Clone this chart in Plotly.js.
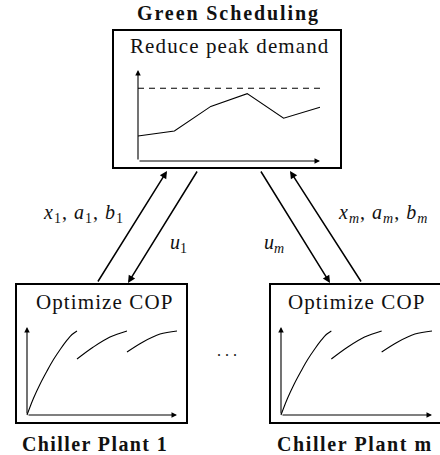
<!DOCTYPE html>
<html>
<head>
<meta charset="utf-8">
<script src="https://cdn.plot.ly/plotly-3.0.1.min.js"></script>
<style>html,body{margin:0;padding:0;background:#fff;}#chart{width:440px;height:455px;}</style>
</head>
<body>
<div id="chart"></div>
<script>
// ---- data ----
const demandX = [0, 1, 2, 3, 4, 5];
const demandY = [2.75, 3.3, 6.0, 7.4, 4.7, 5.9];
const peakLimit = 8.0;
const copX1 = [0, 0.13, 0.26, 0.4, 0.53, 0.67, 0.8, 0.9, 1.0];
const copY1 = [0, 0.19, 0.35, 0.5, 0.63, 0.75, 0.85, 0.915, 0.955];
const copX2 = [1.0, 1.32, 1.66, 2.0];
const copY2 = [0.636, 0.77, 0.886, 0.955];
const copX3 = [2.0, 2.32, 2.66, 3.0];
const copY3 = [0.716, 0.83, 0.92, 0.955];
const titleTop = 'Green Scheduling';
const subTop = 'Reduce peak demand';
const subPlant = 'Optimize COP';
const plantNames = ['Chiller Plant 1', 'Chiller Plant m'];
const upLabels = ['<i>x</i><sub>1</sub>, <i>a</i><sub>1</sub>, <i>b</i><sub>1</sub>', '<i>x<sub>m</sub></i>, <i>a<sub>m</sub></i>, <i>b<sub>m</sub></i>'];
const downLabels = ['<i>u</i><sub>1</sub>', '<i>u<sub>m</sub></i>'];

// ---- layout helpers (pixel geometry) ----
const W = 440, H = 455;
const FONT = 'Liberation Serif';
function xdom(p0, p1, r0, r1, pad) {
  const s = (p1 - p0) / (r1 - r0);
  return {domain: [(p0 - pad * s) / W, (p1 + pad * s) / W], range: [r0 - pad, r1 + pad]};
}
function ydom(pBottom, pTop, r0, r1, pad) {
  const s = (pBottom - pTop) / (r1 - r0);
  return {domain: [1 - (pBottom + pad * s) / H, 1 - (pTop - pad * s) / H], range: [r0 - pad, r1 + pad]};
}
const hidden = {visible: false, showgrid: false, zeroline: false, fixedrange: true};

const topX = xdom(138, 320, 0, 5, 0.3), topY = ydom(161, 70, 0, 10, 0.3);
const p1X = xdom(27, 177, 0, 3, 0.1), p1Y = ydom(415, 327, 0, 1, 0.05);
const pmX = xdom(281, 432, 0, 3, 0.1), pmY = ydom(415, 327, 0, 1, 0.05);

const lineStyle = {color: '#000', width: 1.1};
const traces = [
  {x: demandX, y: demandY, xaxis: 'x2', yaxis: 'y2', mode: 'lines', line: lineStyle, hoverinfo: 'skip'},
  {x: [demandX[0], demandX[demandX.length - 1]], y: [peakLimit, peakLimit], xaxis: 'x2', yaxis: 'y2', mode: 'lines',
   line: {color: '#000', width: 1.1, dash: '6px,5px'}, hoverinfo: 'skip'},
];
[['x3', 'y3'], ['x4', 'y4']].forEach(([xa, ya]) => {
  [[copX1, copY1], [copX2, copY2], [copX3, copY3]].forEach(([cx, cy]) => {
    traces.push({x: cx, y: cy, xaxis: xa, yaxis: ya, mode: 'lines', line: Object.assign({shape: 'spline'}, lineStyle), hoverinfo: 'skip'});
  });
});

const box = (x0, y0, x1, y1) => ({type: 'rect', xref: 'x', yref: 'y', x0, y0, x1, y1, line: {color: '#000', width: 2}, fillcolor: 'rgba(0,0,0,0)'});
const shapes = [box(113, 30, 341, 168), box(16, 284, 187, 423), box(270, 284, 441, 423)];

const sp = (t, ls) => '<span style="letter-spacing:' + ls + 'px">' + t + '</span>';
const txt = (x, y, text, size) => ({x, y, xref: 'x', yref: 'y', text, showarrow: false, font: {family: FONT, size, color: '#111'}});
const arrow = (xh, yh, xt, yt, xr, yr, w) => ({x: xh, y: yh, ax: xt, ay: yt, xref: xr, yref: yr, axref: xr, ayref: yr, text: '', showarrow: true, arrowhead: 2, arrowsize: 1, arrowwidth: w, arrowcolor: '#000'});

const annotations = [
  txt(228, 13, '<b>' + sp(titleTop, 1.9) + '</b>', 20),
  txt(229, 46, sp(subTop, 1.1), 21),
  txt(104, 302, sp(subPlant, 1.1), 21),
  txt(356, 302, sp(subPlant, 1.1), 21),
  txt(95, 444, '<b>' + sp(plantNames[0], 1.4) + '</b>', 20),
  txt(355, 444, '<b>' + sp(plantNames[1], 1.6) + '</b>', 20),
  txt(227, 350, '. . .', 16),
  txt(83, 213, sp(upLabels[0], 1), 20),
  txt(383, 213, sp(upLabels[1], 1), 20),
  txt(178, 243, downLabels[0], 20),
  txt(274, 243, downLabels[1], 20),
  // links
  arrow(167, 171, 97, 283, 'x', 'y', 1.5),
  arrow(128, 283, 198, 170, 'x', 'y', 1.5),
  arrow(330, 283, 260, 170, 'x', 'y', 1.5),
  arrow(290, 171, 362, 283, 'x', 'y', 1.5),
  // mini axes
  arrow(0, 10, 0, 0, 'x2', 'y2', 1.1),
  arrow(5, 0, 0, 0, 'x2', 'y2', 1.1),
  arrow(0, 1, 0, 0, 'x3', 'y3', 1.1),
  arrow(3, 0, 0, 0, 'x3', 'y3', 1.1),
  arrow(0, 1, 0, 0, 'x4', 'y4', 1.1),
  arrow(3, 0, 0, 0, 'x4', 'y4', 1.1),
];

const layout = {
  width: W, height: H, margin: {l: 0, r: 0, t: 0, b: 0},
  paper_bgcolor: '#fff', plot_bgcolor: 'rgba(0,0,0,0)', showlegend: false,
  font: {family: FONT},
  xaxis: Object.assign({range: [0, W], domain: [0, 1]}, hidden),
  yaxis: Object.assign({range: [H, 0], domain: [0, 1]}, hidden),
  xaxis2: Object.assign({anchor: 'y2'}, topX, hidden), yaxis2: Object.assign({anchor: 'x2'}, topY, hidden),
  xaxis3: Object.assign({anchor: 'y3'}, p1X, hidden), yaxis3: Object.assign({anchor: 'x3'}, p1Y, hidden),
  xaxis4: Object.assign({anchor: 'y4'}, pmX, hidden), yaxis4: Object.assign({anchor: 'x4'}, pmY, hidden),
  shapes, annotations,
};
Plotly.newPlot('chart', traces, layout, {staticPlot: true, displayModeBar: false});
</script>
</body>
</html>
